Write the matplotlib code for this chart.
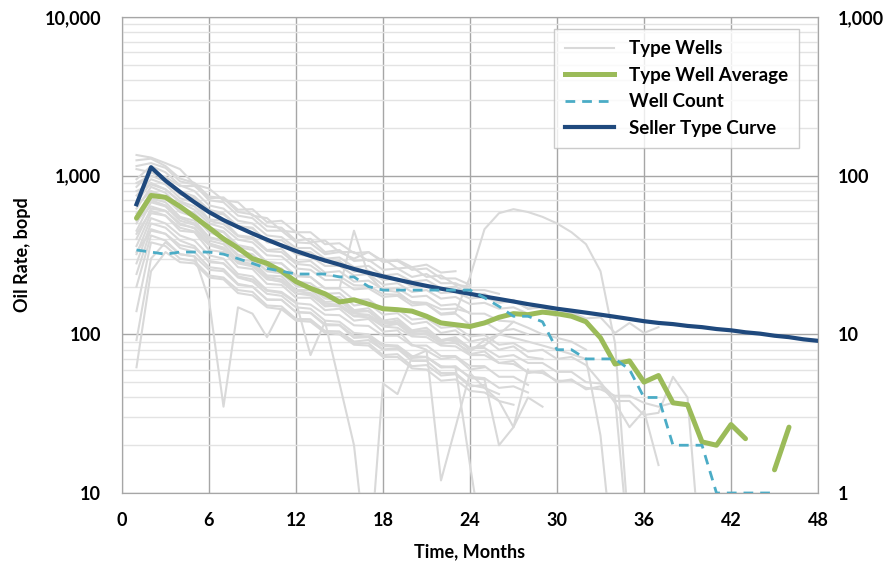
import numpy as np
import matplotlib.pyplot as plt
from matplotlib.lines import Line2D
from matplotlib.ticker import FixedLocator, LogLocator, NullFormatter, FuncFormatter

plt.rcParams['font.family'] = ['Lato', 'DejaVu Sans']
plt.rcParams['font.weight'] = 'bold'

# individual type wells, bopd, month 1 onwards
type_wells = [
    [1350, 1300, 1200, 1100, 880, 830, 700, 680, 560, 540, 450, 440, 380, 390, 330, 330, 290, 300, 260, 265, 230, 235, 205, 200],
    [1250, 1280, 1150, 960, 900, 740, 720, 590, 570, 480, 470, 390, 400, 330, 340, 290, 295, 255, 260, 230, 240, 210, 210, 190, 190, 180],
    [1150, 1200, 1120, 920, 880, 700, 680, 560, 540, 450, 450, 380, 375, 320, 330, 300, 330, 290, 290, 255, 260, 225, 225, 205],
    [950, 1150, 1050, 870, 800, 650, 620, 520, 500, 420, 410, 350, 350, 300, 305, 265, 270, 235, 240, 215, 220, 195, 200, 180, 180, 160, 165, 145, 150, 135, 135, 125],
    [850, 1050, 950, 800, 740, 610, 580, 480, 470, 380, 370, 320, 310, 270, 270, 235, 240, 205, 210, 185, 190, 168, 172, 155, 158, 145, 148, 135, 138, 130],
    [750, 950, 880, 720, 680, 530, 520, 420, 410, 340, 345, 285, 290, 245, 250, 215, 218, 192, 195, 172, 175, 152, 155, 135, 135, 122, 120],
    [680, 900, 820, 680, 610, 500, 470, 395, 380, 315, 310, 260, 255, 220, 220, 192, 195, 172, 175, 152, 155, 135, 138, 230, 460, 580, 615, 590, 550, 500, 440, 370, 250, 88, 5],
    [620, 850, 780, 630, 580, 460, 440, 355, 340, 285, 280, 235, 230, 195, 195, 450, 235, 190, 185, 158, 155, 133, 135, 115, 120, 105, 108, 100],
    [560, 780, 720, 590, 550, 440, 410, 335, 320, 265, 260, 215, 210, 180, 182, 152, 156, 133, 136, 116, 120, 102, 106, 90, 94, 80, 84, 72, 70],
    [500, 720, 680, 550, 520, 410, 390, 310, 305, 250, 248, 205, 200, 170, 172, 142, 146, 122, 126, 106, 110, 92, 96, 82, 85],
    [450, 680, 640, 520, 490, 390, 370, 295, 290, 235, 232, 190, 190, 160, 162, 138, 140, 118, 122, 104, 106, 90, 95, 80, 85, 100, 120, 110, 100, 95, 90, 80],
    [400, 620, 600, 490, 470, 370, 350, 285, 272, 222, 216, 180, 180, 150, 152, 130, 132, 113, 116, 99, 102, 87, 90, 75, 78, 66, 68, 57, 59, 50, 52, 45, 47, 38, 38, 31, 32, 54, 40, 3],
    [360, 580, 560, 450, 440, 340, 330, 265, 258, 208, 205, 170, 170, 142, 145, 122, 125, 104, 106, 86, 80, 12, 26, 57, 46, 38, 26, 40, 35],
    [320, 540, 500, 420, 390, 315, 300, 240, 232, 190, 185, 160, 74, 120, 49, 20, 3, 49, 42, 72, 79, 70, 72, 60, 62],
    [280, 500, 470, 390, 360, 285, 280, 228, 215, 180, 175, 148, 145, 122, 120, 102, 100, 86, 85, 73, 72, 63, 62, 54, 53, 46, 47, 43],
    [240, 460, 430, 350, 330, 265, 258, 208, 200, 166, 165, 138, 137, 116, 115, 98, 97, 84, 84, 72, 72, 62, 62, 15, 4],
    [200, 420, 390, 320, 310, 165, 35, 148, 135, 96, 145, 125, 124, 105, 104, 90, 92, 80, 82, 71, 72, 62, 63, 53, 52, 20, 26, 60],
    [140, 380, 360, 300, 290, 235, 228, 190, 185, 152, 150, 125, 124, 104, 104, 88, 88, 74, 75, 63, 64, 55, 56, 47, 48],
    [92, 300, 380, 320, 310, 255, 250, 205, 200, 165, 165, 138, 136, 114, 114, 95, 96, 80, 81, 68, 68, 57, 57, 48, 46, 42],
    [62, 250, 330, 285, 280, 228, 222, 182, 176, 148, 144, 122, 120, 102, 100, 86, 85, 72, 72, 61, 60, 51, 52, 44, 43, 38, 36],
    [1100, 1050, 980, 860, 860, 720, 730, 610, 615, 510, 520, 440, 440, 370, 375, 325, 330, 285, 295, 265, 275, 245, 250],
    [900, 1000, 920, 760, 720, 590, 570, 480, 465, 390, 392, 335, 330, 285, 290, 248, 252, 220, 225, 200, 205, 182, 185, 168, 172, 158, 162, 145, 148, 135, 138, 126, 128, 102, 118, 102, 111],
    [650, 800, 740, 610, 580, 470, 445, 365, 350, 285, 280, 232, 230, 195, 195, 165, 166, 142, 144, 124, 126, 110, 112, 97, 99, 86, 88, 78, 80, 70, 72, 64, 50, 37, 26, 33, 15],
    [580, 700, 650, 540, 500, 405, 385, 318, 300, 250, 242, 202, 196, 168, 165, 142, 140, 120, 118, 102, 100, 88, 88, 78, 92, 100, 95, 90, 85, 80, 75, 70, 23, 3],
    [520, 640, 600, 500, 465, 375, 352, 288, 278, 230, 222, 188, 182, 156, 154, 135, 133, 117, 117, 104, 104, 92, 92, 82, 82, 72, 74, 66, 66, 58, 58, 50, 49, 40, 4],
    [430, 600, 560, 470, 445, 365, 342, 280, 268, 224, 214, 181, 176, 152, 150, 130, 128, 112, 110, 97, 96, 85, 84, 74, 74, 66, 65, 58, 57, 51, 51, 46, 45, 41, 41, 37, 35, 37, 36, 21, 20, 27, 22, np.nan, 14, 26],
    [800, 880, 820, 690, 640, 520, 495, 415, 400, 335, 330, 278, 272, 235, 232, 204, 202, 179, 178, 160, 158, 144, 145, 137],
    [330, 450, 430, 365, 350, 290, 280, 232, 222, 188, 182, 157, 154, 133, 132, 114, 113, 98, 98, 85, 85, 73, 73, 63, 63, 54, 54, 48],
]

# type well average, bopd (gap at month 44)
avg_months = np.arange(1, 47)
avg_rate = [540, 750, 730, 640, 550, 470, 400, 350, 300, 280, 250, 215, 195, 180, 160, 165, 155, 145, 143, 140,
            130, 118, 115, 112, 118, 128, 135, 133, 138, 135, 130, 120, 95, 65, 68, 50, 55, 37, 36, 21,
            20, 27, 22, np.nan, 14, 26]

# well count (right axis)
count_months = np.arange(1, 46)
well_count = [34, 33, 32, 33, 33, 33, 32, 30, 28, 26, 25, 24, 24, 24, 23, 23, 20, 19, 19, 19,
              19, 19, 19, 19, 17, 15, 13, 13, 12, 8, 8, 7, 7, 7, 6, 4, 4, 2, 2, 2,
              1, 1, 1, 1, 1]

# seller type curve, bopd
seller_months = np.arange(1, 49)
seller_rate = [660, 1130, 930, 790, 680, 590, 525, 475, 432, 395, 363, 335, 312, 292, 275, 258, 244, 232, 221, 211,
               202, 194, 187, 180, 173, 167, 161, 155, 150, 145, 141, 137, 133, 129, 125, 121, 118, 116, 113, 111,
               108, 106, 103, 101, 98, 96, 93, 91]

gray = '#d9d9d9'
green = '#9bbb59'
teal = '#4bacc6'
navy = '#1f497d'

fig = plt.figure(figsize=(8.94, 5.67), dpi=100)
ax = fig.add_axes([122 / 894, 1 - 493 / 567, 696 / 894, 476 / 567])
ax2 = ax.twinx()

for w in type_wells:
    ax.plot(np.arange(1, len(w) + 1), w, color=gray, lw=1.5, zorder=2)
ax.plot(avg_months, avg_rate, color=green, lw=3.6, zorder=4, solid_capstyle='round')
ax.plot(seller_months, seller_rate, color=navy, lw=3.0, zorder=5)
ax2.plot(count_months, well_count, color=teal, lw=2.0, dashes=(3.5, 2.5))

ax.set_yscale('log')
ax2.set_yscale('log')
ax.set_ylim(10, 10000)
ax2.set_ylim(1, 1000)
ax.set_xlim(0, 48)
ax.xaxis.set_major_locator(FixedLocator(range(0, 49, 6)))

fmt = FuncFormatter(lambda v, p: f'{v:,.0f}')
ax.yaxis.set_major_formatter(fmt)
ax2.yaxis.set_major_formatter(fmt)
ax.yaxis.set_minor_locator(LogLocator(base=10, subs=range(2, 10)))
ax.yaxis.set_minor_formatter(NullFormatter())
ax2.yaxis.set_minor_formatter(NullFormatter())

ax.grid(True, which='major', axis='both', color='#a6a6a6', lw=1.0, zorder=0)
ax.grid(True, which='minor', axis='y', color='#e3e3e3', lw=1.0, zorder=0)
ax.set_axisbelow(True)

ax.tick_params(axis='both', which='both', length=0, labelsize=13, colors='black')
ax.tick_params(axis='y', pad=15)
ax.tick_params(axis='x', pad=14)
ax2.tick_params(axis='y', which='both', length=0, labelsize=13, pad=14)

for a in (ax, ax2):
    for s in a.spines.values():
        s.set_color('#a6a6a6')

ax.set_xlabel('Time, Months', fontsize=13, fontweight='bold')
ax.set_ylabel('Oil Rate, bopd', fontsize=13, fontweight='bold')
ax.xaxis.set_label_coords(0.5, -0.105)
ax.yaxis.set_label_coords(-0.131, 0.5)

handles = [
    Line2D([], [], color=gray, lw=1.5),
    Line2D([], [], color=green, lw=3.6),
    Line2D([], [], color=teal, lw=2.0, dashes=(3.5, 2.5)),
    Line2D([], [], color=navy, lw=3.0),
]
labels = ['Type Wells', 'Type Well Average', 'Well Count', 'Seller Type Curve']
leg = ax2.legend(handles, labels, loc='upper right', bbox_to_anchor=(0.986, 0.994),
                 fontsize=13.5, frameon=True, fancybox=False, edgecolor='#bfbfbf',
                 handlelength=2.6, handletextpad=0.8, labelspacing=0.5, borderpad=0.6)
leg.get_frame().set_linewidth(1.0)
for t in leg.get_texts():
    t.set_fontweight('bold')

fig.savefig('out.png', dpi=100)
